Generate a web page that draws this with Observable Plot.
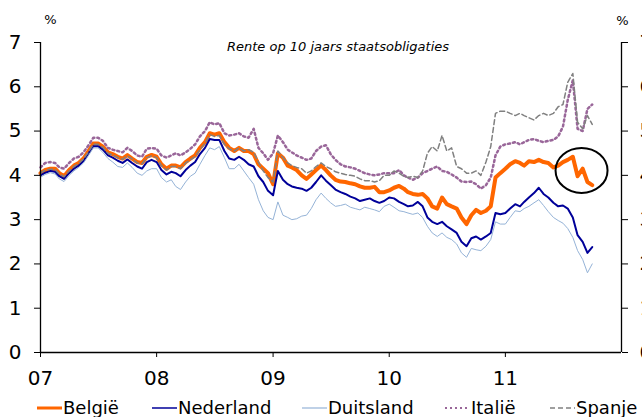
<!DOCTYPE html>
<html><head><meta charset="utf-8">
<script src="https://cdn.jsdelivr.net/npm/d3@7"></script>
<script src="https://cdn.jsdelivr.net/npm/@observablehq/plot@0.6"></script>
<style>
html,body{margin:0;padding:0;background:#fff;overflow:hidden;}
#chart{position:relative;width:642px;height:417px;overflow:hidden;font-family:"DejaVu Sans",Verdana,sans-serif;}
#legend{position:absolute;left:0;top:396px;width:642px;height:24px;}
.item{position:absolute;top:0;height:24px;line-height:24px;font-size:18px;white-space:nowrap;color:#000;display:flex;align-items:center;}
.item svg{display:block;margin-right:1px;}
</style></head>
<body><div id="chart"><div id="plot"></div><div id="legend"></div></div>
<script>
const dates = [
"2007-01-01","2007-01-16","2007-02-01","2007-02-16","2007-03-01","2007-03-16","2007-04-01","2007-04-16","2007-05-01","2007-05-16","2007-06-01","2007-06-16",
"2007-07-01","2007-07-16","2007-08-01","2007-08-16","2007-09-01","2007-09-16","2007-10-01","2007-10-16","2007-11-01","2007-11-16","2007-12-01","2007-12-16",
"2008-01-01","2008-01-16","2008-02-01","2008-02-16","2008-03-01","2008-03-16","2008-04-01","2008-04-16","2008-05-01","2008-05-16","2008-06-01","2008-06-16",
"2008-07-01","2008-07-16","2008-08-01","2008-08-16","2008-09-01","2008-09-16","2008-10-01","2008-10-16","2008-11-01","2008-11-16","2008-12-01","2008-12-16",
"2009-01-01","2009-01-16","2009-02-01","2009-02-16","2009-03-01","2009-03-16","2009-04-01","2009-04-16","2009-05-01","2009-05-16","2009-06-01","2009-06-16",
"2009-07-01","2009-07-16","2009-08-01","2009-08-16","2009-09-01","2009-09-16","2009-10-01","2009-10-16","2009-11-01","2009-11-16","2009-12-01","2009-12-16",
"2010-01-01","2010-01-16","2010-02-01","2010-02-16","2010-03-01","2010-03-16","2010-04-01","2010-04-16","2010-05-01","2010-05-16","2010-06-01","2010-06-16",
"2010-07-01","2010-07-16","2010-08-01","2010-08-16","2010-09-01","2010-09-16","2010-10-01","2010-10-16","2010-11-01","2010-11-16","2010-12-01","2010-12-16",
"2011-01-01","2011-01-16","2011-02-01","2011-02-16","2011-03-01","2011-03-16","2011-04-01","2011-04-16","2011-05-01","2011-05-16","2011-06-01","2011-06-16",
"2011-07-01","2011-07-16","2011-08-01","2011-08-16","2011-09-01","2011-09-16","2011-10-01"
];

const belgie = [
4.05,4.12,4.15,4.15,4.05,3.98,4.12,4.22,4.28,4.38,4.55,4.72,4.72,4.65,4.52,4.48,4.42,4.38,4.46,4.38,4.30,4.28,4.42,4.46,
4.42,4.25,4.15,4.22,4.22,4.18,4.30,4.38,4.45,4.62,4.75,4.95,4.92,4.95,4.75,4.62,4.55,4.62,4.55,4.55,4.48,4.25,4.15,4.05,
3.80,4.50,4.40,4.22,4.18,4.12,4.00,3.92,4.02,4.12,4.22,4.12,4.00,3.90,3.86,3.85,3.82,3.80,3.75,3.72,3.72,3.74,3.62,3.62,
3.66,3.72,3.76,3.70,3.62,3.58,3.56,3.58,3.48,3.30,3.25,3.50,3.35,3.30,3.25,3.05,2.90,3.10,3.22,3.15,3.20,3.30,3.95,4.05,
4.15,4.25,4.32,4.28,4.22,4.32,4.30,4.35,4.30,4.28,4.18,4.22,4.30,4.35,4.42,3.98,4.15,3.85,3.78
];
const nederland = [
4.00,4.06,4.10,4.08,3.98,3.92,4.05,4.15,4.22,4.32,4.50,4.66,4.66,4.58,4.45,4.40,4.33,4.28,4.36,4.28,4.20,4.15,4.30,4.35,
4.30,4.12,4.02,4.08,4.05,3.98,4.12,4.22,4.30,4.48,4.62,4.82,4.80,4.80,4.55,4.38,4.35,4.42,4.35,4.25,4.20,3.98,3.85,3.65,
3.55,4.10,3.90,3.80,3.75,3.72,3.70,3.65,3.72,3.85,4.00,3.88,3.78,3.68,3.62,3.58,3.52,3.48,3.42,3.45,3.48,3.42,3.38,3.42,
3.50,3.48,3.40,3.35,3.30,3.32,3.40,3.30,3.05,2.95,2.90,2.95,2.85,2.78,2.70,2.50,2.40,2.58,2.62,2.55,2.62,2.70,3.15,3.12,
3.15,3.25,3.35,3.30,3.40,3.50,3.60,3.72,3.58,3.50,3.38,3.30,3.32,3.25,3.05,2.65,2.50,2.25,2.38
];
const duitsland = [
3.96,4.02,4.06,4.03,3.92,3.86,4.00,4.10,4.18,4.28,4.45,4.62,4.62,4.52,4.38,4.30,4.20,4.18,4.28,4.18,4.05,4.00,4.10,4.15,
4.15,3.95,3.85,3.90,3.75,3.68,3.85,3.98,4.05,4.25,4.45,4.62,4.58,4.65,4.40,4.15,4.15,4.25,4.10,3.95,3.80,3.45,3.20,3.05,
3.00,3.40,3.10,3.05,3.00,3.02,3.08,3.10,3.25,3.45,3.60,3.48,3.38,3.30,3.32,3.35,3.28,3.25,3.22,3.28,3.25,3.22,3.18,3.30,
3.35,3.28,3.20,3.18,3.15,3.12,3.15,3.05,2.85,2.70,2.62,2.70,2.60,2.55,2.45,2.25,2.15,2.35,2.32,2.30,2.40,2.55,2.95,2.90,
2.90,3.05,3.20,3.18,3.25,3.30,3.38,3.45,3.32,3.18,3.05,2.98,2.92,2.80,2.60,2.30,2.10,1.80,2.00
];
const italie = [
4.18,4.28,4.30,4.28,4.18,4.15,4.28,4.38,4.42,4.52,4.68,4.85,4.85,4.78,4.62,4.58,4.55,4.52,4.62,4.55,4.45,4.42,4.60,4.62,
4.60,4.45,4.40,4.45,4.50,4.45,4.52,4.60,4.70,4.88,5.00,5.20,5.15,5.18,4.95,4.90,4.92,4.95,4.88,4.85,5.05,4.62,4.50,4.35,
4.50,4.90,4.75,4.58,4.52,4.45,4.40,4.35,4.38,4.55,4.65,4.68,4.48,4.35,4.25,4.20,4.18,4.15,4.10,4.05,4.02,4.00,4.02,4.05,
4.05,4.05,4.12,4.00,3.95,3.90,3.95,4.05,4.10,4.15,4.20,4.10,4.08,4.02,3.95,3.86,3.85,3.86,3.80,3.70,3.78,3.95,4.45,4.65,
4.70,4.72,4.75,4.70,4.75,4.80,4.82,4.78,4.75,4.78,4.80,4.88,5.10,5.70,6.15,5.05,5.00,5.50,5.60
];
const spanje = [
4.05,4.12,4.14,4.13,4.03,3.97,4.10,4.20,4.27,4.37,4.53,4.70,4.70,4.63,4.50,4.46,4.40,4.36,4.44,4.37,4.28,4.26,4.40,4.44,
4.40,4.22,4.12,4.20,4.20,4.15,4.28,4.35,4.42,4.58,4.72,4.92,4.88,4.90,4.70,4.60,4.55,4.62,4.55,4.58,4.52,4.30,4.10,3.95,
3.85,4.55,4.40,4.28,4.22,4.18,4.15,4.05,4.10,4.20,4.28,4.20,4.15,4.08,4.05,4.02,4.00,3.98,3.92,3.88,3.88,3.85,3.88,4.00,
4.00,4.10,4.05,3.98,3.95,3.98,3.95,4.10,4.50,4.65,4.55,4.90,4.55,4.62,4.20,4.15,4.05,4.05,4.10,4.00,4.30,4.65,5.40,5.45,
5.45,5.40,5.35,5.40,5.35,5.30,5.25,5.35,5.40,5.35,5.40,5.55,5.60,6.10,6.30,5.20,5.05,5.35,5.15
];

const seriesNames = ["België", "Nederland", "Duitsland", "Italië", "Spanje"];
const seriesColors = ["#ff6600", "#000099", "#95b3d7", "#996699", "#808080"];
const yTicks = [0, 1, 2, 3, 4, 5, 6, 7];
const xTickYears = ["2007-01-01", "2008-01-01", "2009-01-01", "2010-01-01", "2011-01-01"];
const xDomain = ["2007-01-01", "2012-01-01"];
const titleText = "Rente op 10 jaars staatsobligaties";
const unitLabel = "%";
const circleDate = "2011-08-30";
const circleValue = 4.1;

const seriesValues = [belgie, nederland, duitsland, italie, spanje];
const seriesStyles = [
  {strokeWidth: 4, dash: null, legendWidth: 3},
  {strokeWidth: 2, dash: null, legendWidth: 1.5},
  {strokeWidth: 1, dash: null, legendWidth: 1.2},
  {strokeWidth: 2.5, dash: "2,3", legendWidth: 2},
  {strokeWidth: 1.5, dash: "5,3", legendWidth: 1.5}
];

const parse = s => new Date(s + "T00:00:00Z");
const rows = seriesNames.map((name, k) =>
  dates.map((d, i) => ({date: parse(d), value: seriesValues[k][i], series: name})));

const lineMarks = seriesNames.map((name, k) =>
  Plot.line(rows[k], {
    x: "date", y: "value",
    stroke: seriesColors[k],
    strokeWidth: seriesStyles[k].strokeWidth,
    strokeDasharray: seriesStyles[k].dash,
    strokeLinejoin: "round"
  }));

const ellipseMark = (index, scales) => {
  const e = document.createElementNS("http://www.w3.org/2000/svg", "ellipse");
  e.setAttribute("cx", scales.x(parse(circleDate)));
  e.setAttribute("cy", scales.y(circleValue));
  e.setAttribute("rx", 26);
  e.setAttribute("ry", 22.5);
  e.setAttribute("fill", "none");
  e.setAttribute("stroke", "#000");
  e.setAttribute("stroke-width", 2);
  return e;
};

const intFormat = d => String(d);

const plot = Plot.plot({
  width: 642,
  height: 396,
  marginLeft: 40,
  marginRight: 21,
  marginTop: 42,
  marginBottom: 44,
  style: {fontFamily: "'DejaVu Sans', Verdana, sans-serif", background: "white", color: "#000"},
  x: {type: "utc", domain: xDomain.map(parse)},
  y: {domain: [0, 7]},
  marks: [
    ...lineMarks,
    ellipseMark,
    Plot.ruleY([0], {stroke: "#000", strokeWidth: 1.3}),
    Plot.ruleX([parse(xDomain[0]), parse(xDomain[1])], {stroke: "#000", strokeWidth: 1.3}),
    Plot.axisY({anchor: "left", ticks: yTicks, tickFormat: intFormat, tickSize: 6, tickPadding: 13, fontSize: 20, label: null}),
    Plot.axisY({anchor: "right", ticks: yTicks, tickFormat: intFormat, tickSize: 6, tickPadding: 12, fontSize: 20, label: null}),
    Plot.axisX({ticks: xTickYears.map(parse), tickFormat: d3.utcFormat("%y"), tickSize: 5, tickPadding: 13, fontSize: 20, label: null}),
    Plot.text([titleText], {frameAnchor: "top", dx: 7, dy: 4, lineAnchor: "middle", fontSize: 13, fontStyle: "italic"}),
    Plot.text([unitLabel], {frameAnchor: "top-left", dx: 10, dy: -23, lineAnchor: "middle", textAnchor: "middle", fontSize: 13}),
    Plot.text([unitLabel], {frameAnchor: "top-right", dx: 1, dy: -22, lineAnchor: "middle", textAnchor: "middle", fontSize: 13})
  ]
});
document.getElementById("plot").appendChild(plot);

// legend
const legendLeft = [37, 152, 302, 445, 550];
const legend = document.getElementById("legend");
seriesNames.forEach((name, k) => {
  const item = document.createElement("div");
  item.className = "item";
  item.style.left = legendLeft[k] + "px";
  const st = seriesStyles[k];
  item.innerHTML =
    `<svg width="25" height="10"><line x1="0" y1="5" x2="25" y2="5" stroke="${seriesColors[k]}" stroke-width="${st.legendWidth}" ${st.dash ? `stroke-dasharray="${st.dash}"` : ""}/></svg><span>${name}</span>`;
  legend.appendChild(item);
});
</script>
</body></html>
